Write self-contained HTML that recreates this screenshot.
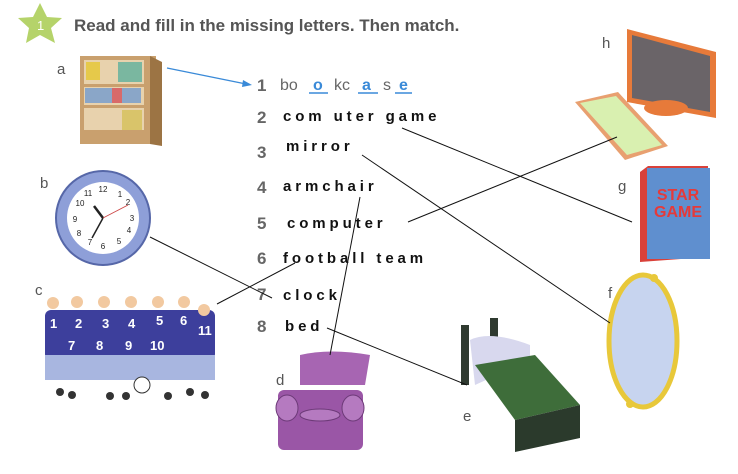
<!DOCTYPE html>
<html><head><meta charset="utf-8"><style>
html,body{margin:0;padding:0;background:#fff;}
svg{display:block;}
.w{font-family:"Liberation Sans",sans-serif;font-size:15px;font-weight:bold;fill:#111;letter-spacing:3.9px;}
.n{font-family:"Liberation Sans",sans-serif;font-size:17px;font-weight:bold;fill:#666;}
.l{font-family:"Liberation Sans",sans-serif;font-size:15px;fill:#555;}
</style></head><body>
<svg width="738" height="474" viewBox="0 0 738 474" xmlns="http://www.w3.org/2000/svg">
<rect width="738" height="474" fill="#fff"/>
<polygon points="40,3 47,17 62,18 51,28 55,43 40,35 26,43 29,28 18,18 33,17" fill="#b5d36a"/>
<text x="37" y="30" font-family="Liberation Sans,sans-serif" font-size="13" fill="#fff">1</text>
<text x="74" y="31" font-family="Liberation Sans,sans-serif" font-size="17" font-weight="bold" fill="#555">Read and fill in the missing letters. Then match.</text>

<text class="l" x="57" y="74">a</text>
<text class="l" x="40" y="188">b</text>
<text class="l" x="35" y="295">c</text>
<text class="l" x="276" y="385">d</text>
<text class="l" x="463" y="421">e</text>
<text class="l" x="608" y="298">f</text>
<text class="l" x="618" y="191">g</text>
<text class="l" x="602" y="48">h</text>

<rect x="80" y="56" width="76" height="88" fill="#c9a06e"/>
<polygon points="150,56 162,62 162,146 150,144" fill="#9c7444"/>
<rect x="84" y="60" width="60" height="24" fill="#e8d2ad"/>
<rect x="84" y="87" width="60" height="18" fill="#e8d2ad"/>
<rect x="84" y="108" width="60" height="22" fill="#e8d2ad"/>
<rect x="86" y="62" width="14" height="18" fill="#e6c94a"/><rect x="118" y="62" width="24" height="20" fill="#7ab7a0"/>
<rect x="85" y="88" width="56" height="15" fill="#8aa6c8"/><rect x="112" y="88" width="10" height="15" fill="#d86a6a"/>
<rect x="122" y="110" width="20" height="20" fill="#d9c46a"/>

<circle cx="103" cy="218" r="47" fill="#8e9fd8" stroke="#5667a8" stroke-width="2"/>
<circle cx="103" cy="218" r="36" fill="#fff"/>
<g font-family="Liberation Sans,sans-serif" font-size="8" fill="#222" text-anchor="middle">
<text x="103" y="192">12</text><text x="120" y="197">1</text><text x="128" y="205">2</text><text x="132" y="221">3</text><text x="129" y="233">4</text><text x="119" y="244">5</text><text x="103" y="249">6</text><text x="90" y="245">7</text><text x="79" y="236">8</text><text x="75" y="222">9</text><text x="80" y="206">10</text><text x="88" y="196">11</text></g>
<line x1="103" y1="218" x2="94" y2="206" stroke="#222" stroke-width="2.5"/>
<line x1="103" y1="218" x2="92" y2="238" stroke="#222" stroke-width="1.5"/>
<line x1="103" y1="218" x2="128" y2="205" stroke="#c44" stroke-width="0.8"/>

<g>
<rect x="45" y="310" width="170" height="50" fill="#3d3f9c" rx="6"/>
<rect x="45" y="355" width="170" height="25" fill="#a8b6e0"/>
<g fill="#f2c9a0"><circle cx="53" cy="303" r="6"/><circle cx="77" cy="302" r="6"/><circle cx="104" cy="302" r="6"/><circle cx="131" cy="302" r="6"/><circle cx="158" cy="302" r="6"/><circle cx="184" cy="302" r="6"/><circle cx="204" cy="310" r="6"/></g>
<g fill="#333"><circle cx="60" cy="392" r="4"/><circle cx="72" cy="395" r="4"/><circle cx="110" cy="396" r="4"/><circle cx="126" cy="396" r="4"/><circle cx="168" cy="396" r="4"/><circle cx="190" cy="392" r="4"/><circle cx="205" cy="395" r="4"/></g>
<circle cx="142" cy="385" r="8" fill="#fff" stroke="#333"/>
<g font-family="Liberation Sans,sans-serif" font-size="13" font-weight="bold" fill="#fff">
<text x="50" y="328">1</text><text x="75" y="328">2</text><text x="102" y="328">3</text><text x="128" y="328">4</text><text x="156" y="325">5</text><text x="180" y="325">6</text><text x="198" y="335">11</text>
<text x="68" y="350">7</text><text x="96" y="350">8</text><text x="125" y="350">9</text><text x="150" y="350">10</text></g>
</g>

<path d="M300 355 Q330 348 370 355 L365 385 L300 385 Z" fill="#a765b2"/>
<rect x="278" y="390" width="85" height="60" fill="#9a56a6" rx="6"/>
<ellipse cx="287" cy="408" rx="11" ry="13" fill="#b57ac0" stroke="#6d3a78"/>
<ellipse cx="353" cy="408" rx="11" ry="13" fill="#b57ac0" stroke="#6d3a78"/>
<ellipse cx="320" cy="415" rx="20" ry="6" fill="#b57ac0" stroke="#6d3a78"/>

<rect x="461" y="325" width="8" height="60" fill="#2f3a30"/>
<rect x="490" y="318" width="8" height="30" fill="#2f3a30"/>
<path d="M470 340 Q490 330 530 345 L530 360 L475 385 Z" fill="#d8d8ee"/>
<polygon points="475,365 535,355 580,405 515,420" fill="#3e6d3a"/>
<polygon points="515,420 580,405 580,438 515,452" fill="#2b3a2c"/>

<ellipse cx="643" cy="341" rx="34" ry="66" fill="#c7d4ef" stroke="#e8c83a" stroke-width="5"/>
<circle cx="654" cy="278" r="4" fill="#e8c83a"/><circle cx="630" cy="404" r="4" fill="#e8c83a"/>

<polygon points="640,172 648,166 708,166 708,257 640,262" fill="#d9413a"/>
<rect x="647" y="168" width="63" height="91" fill="#5f8fcf"/>
<text x="678" y="200" text-anchor="middle" font-family="Liberation Sans,sans-serif" font-weight="bold" font-size="16" fill="#e53a3a">STAR</text>
<text x="678" y="217" text-anchor="middle" font-family="Liberation Sans,sans-serif" font-weight="bold" font-size="16" fill="#e53a3a">GAME</text>

<polygon points="627,29 716,52 716,118 627,102" fill="#e77a3a"/>
<polygon points="632,35 710,56 710,112 632,98" fill="#6a6468"/>
<ellipse cx="666" cy="108" rx="22" ry="8" fill="#e77a3a"/>
<polygon points="575,102 618,92 668,146 625,160" fill="#e8a070"/>
<polygon points="580,103 616,96 662,145 627,155" fill="#d9f0b0"/>

<g class="n"><text x="257" y="91">1</text><text x="257" y="123">2</text><text x="257" y="158">3</text><text x="257" y="193">4</text><text x="257" y="229">5</text><text x="257" y="264">6</text><text x="257" y="300">7</text><text x="257" y="332">8</text></g>
<text x="280" y="90" font-family="Liberation Sans,sans-serif" font-size="16" fill="#666">bo</text>
<text x="313" y="90" font-family="Liberation Sans,sans-serif" font-size="16" font-weight="bold" fill="#3a8ad8">o</text>
<line x1="309" y1="93" x2="328" y2="93" stroke="#3a8ad8" stroke-width="1.5"/>
<text x="334" y="90" font-family="Liberation Sans,sans-serif" font-size="16" fill="#666">kc</text>
<text x="362" y="90" font-family="Liberation Sans,sans-serif" font-size="16" font-weight="bold" fill="#3a8ad8">a</text>
<line x1="358" y1="93" x2="378" y2="93" stroke="#3a8ad8" stroke-width="1.5"/>
<text x="383" y="90" font-family="Liberation Sans,sans-serif" font-size="16" fill="#666">s</text>
<text x="399" y="90" font-family="Liberation Sans,sans-serif" font-size="16" font-weight="bold" fill="#3a8ad8">e</text>
<line x1="395" y1="93" x2="412" y2="93" stroke="#3a8ad8" stroke-width="1.5"/>

<text class="w" x="283" y="121">com uter game</text>
<text class="w" x="286" y="151">mirror</text>
<text class="w" x="283" y="191">armchair</text>
<text class="w" x="287" y="228">computer</text>
<text class="w" x="283" y="263">football team</text>
<text class="w" x="283" y="300">clock</text>
<text class="w" x="285" y="331">bed</text>

<g stroke="#111" stroke-width="1">
<line x1="402" y1="128" x2="632" y2="222"/>
<line x1="362" y1="155" x2="610" y2="323"/>
<line x1="360" y1="197" x2="330" y2="355"/>
<line x1="408" y1="222" x2="617" y2="137"/>
<line x1="217" y1="304" x2="295" y2="263"/>
<line x1="150" y1="237" x2="272" y2="298"/>
<line x1="327" y1="328" x2="467" y2="385"/>
</g>
<line x1="167" y1="68" x2="246" y2="84" stroke="#3a8ad8" stroke-width="1.2"/>
<polygon points="252,85 243,80 242,87" fill="#3a8ad8"/>
</svg>
</body></html>
